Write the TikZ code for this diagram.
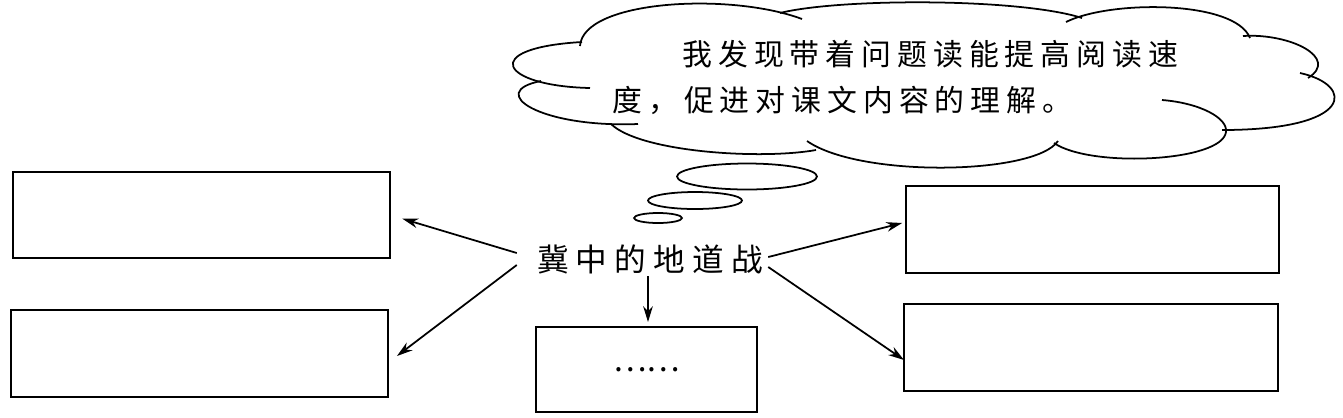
\documentclass[tikz,border=0pt]{standalone}
\usepackage{fontspec}
\newfontfamily\cjk{Noto Sans CJK SC}
\usetikzlibrary{arrows.meta,calc}
\newcommand\gq{\hspace{4.1pt}}
\newcommand\gc{\hspace{3.4pt}}
\begin{document}
\begin{tikzpicture}[x=0.02cm,y=-0.02cm,
  box/.style={draw, line width=1.1pt, inner sep=0pt, outer sep=0pt, minimum height=1.73cm},
  arr/.style={-{Stealth[length=9pt,width=5.5pt]}, line width=1pt},
  cloudline/.style={line width=1pt},
  cjktext/.style={inner sep=0pt, font=\cjk\fontsize{17}{20}\selectfont}]
\useasboundingbox (0,0) rectangle (1343,417);
% boxes
\node[box, minimum width=7.54cm] (tl) at (201.5,215) {};
\node[box, minimum width=7.54cm] (bl) at (199.5,353.5) {};
\node[box, minimum width=4.42cm, minimum height=1.70cm, font=\cjk\fontsize{18}{20}\selectfont] (c) at (646.5,369.5) {……};
\node[box, minimum width=7.46cm] (tr) at (1092.5,229.5) {};
\node[box, minimum width=7.48cm] (br) at (1091,347.5) {};
% title
\node[inner sep=0pt, font=\cjk\fontsize{18}{20}\selectfont] (title) at (650,259) {冀\gq 中\gq 的\gq 地\gq 道\gq 战};
% arrows
\draw[arr, shorten >=0.26cm] ($(title.west)+(-20,-6)$) -- (tl.east);
\draw[arr] ($(title.west)+(-20,6)$) -- ($(bl.east)+(9,2.5)$);
\draw[arr, shorten >=0.08cm] ($(title.east)+(5,-2)$) -- ($(tr.west)+(0,-7.5)$);
\draw[arr] ($(title.east)+(5,8)$) -- ($(br.west)+(0,12.5)$);
\draw[arr, shorten >=0.1cm] ($(title.south)+(-2,2)$) -- ($(c.north)+(1.5,0)$);
% thought bubbles
\draw[cloudline] (658,218) ellipse [x radius=0.48cm, y radius=0.1cm];
\draw[cloudline] (695,200.5) ellipse [x radius=0.94cm, y radius=0.17cm];
\draw[cloudline] (747,176.5) ellipse [x radius=1.4cm, y radius=0.26cm];
% cloud
\draw[cloudline] (580,46) .. controls (583,0) and (730,-8) .. (802,19);
\draw[cloudline] (780,13) .. controls (840,-2) and (1020,-2) .. (1082,18);
\draw[cloudline] (1066,22) .. controls (1110,0) and (1235,0) .. (1250,38);
\draw[cloudline] (1243,36) .. controls (1290,33) and (1340,58) .. (1308,78);
\draw[cloudline] (1300,73) .. controls (1355,85) and (1355,130) .. (1222,130);
\draw[cloudline] (1162,100) .. controls (1200,103) and (1228,118) .. (1226,132) .. controls (1222,162) and (1090,168) .. (1054,143);
\draw[cloudline] (1058,141) .. controls (1035,175) and (860,178) .. (807,141);
\draw[cloudline] (816,150) .. controls (760,160) and (640,152) .. (611,124);
\draw[cloudline] (638,124) .. controls (540,128) and (485,92) .. (541,81);
\draw[cloudline] (590,88) .. controls (500,86) and (478,48) .. (582,42);
% cloud text
\node[cjktext, anchor=west] (l1) at (682,54) {我\gc 发\gc 现\gc 带\gc 着\gc 问\gc 题\gc 读\gc 能\gc 提\gc 高\gc 阅\gc 读\gc 速};
\node[cjktext, anchor=west] (l2) at (612,100) {度\gc ，\gc 促\gc 进\gc 对\gc 课\gc 文\gc 内\gc 容\gc 的\gc 理\gc 解\gc 。};
\end{tikzpicture}
\end{document}
